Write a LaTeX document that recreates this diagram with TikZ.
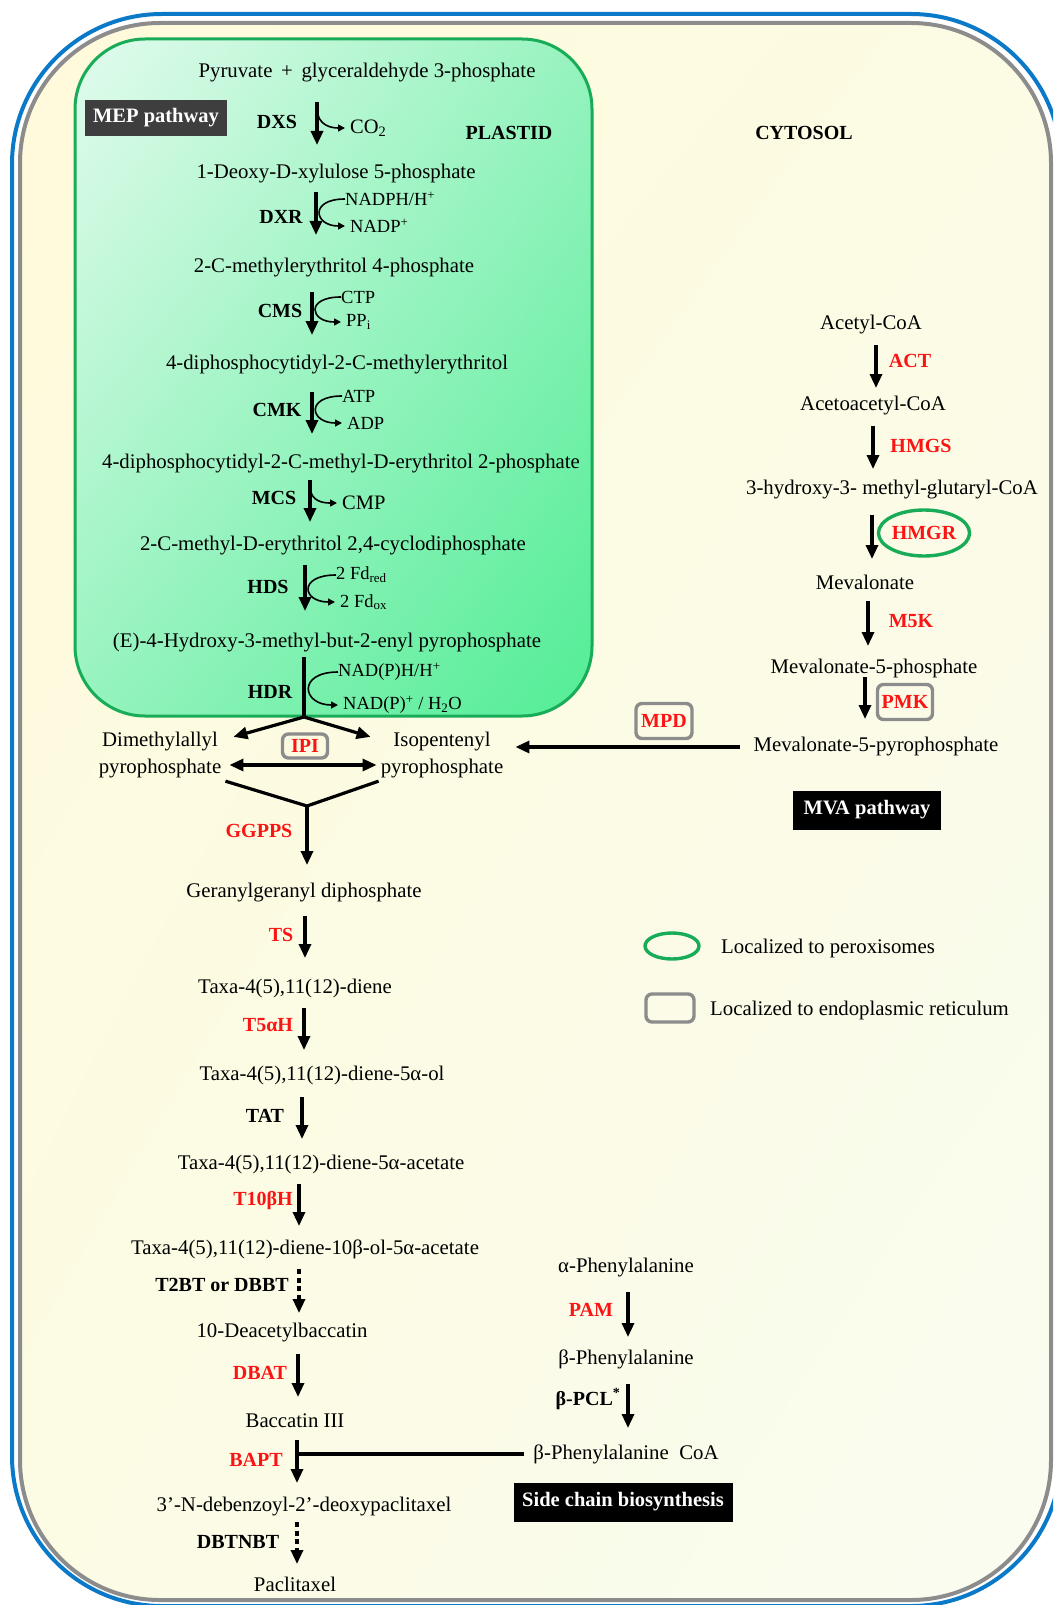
\documentclass[tikz,border=0pt]{standalone}
\usepackage{fontspec}
\setmainfont{Liberation Serif}
\usetikzlibrary{arrows.meta,calc,shapes.geometric,shadings}

\definecolor{bluebd}{RGB}{10,122,200}
\definecolor{graybd}{RGB}{140,140,140}
\definecolor{creamA}{RGB}{254,250,218}
\definecolor{creamB}{RGB}{252,251,228}
\definecolor{creamC}{RGB}{249,252,240}
\definecolor{mintA}{RGB}{226,251,237}
\definecolor{mintB}{RGB}{150,243,190}
\definecolor{mintC}{RGB}{82,237,150}
\definecolor{greenline}{RGB}{25,172,88}
\definecolor{enzred}{RGB}{250,20,20}
\definecolor{dkbox}{RGB}{62,62,62}

\begin{document}
\begin{tikzpicture}[x=1pt, y=-1pt,
    metab/.style={font=\fontsize{20.8}{27}\selectfont, inner sep=0pt, align=center},
    enz/.style={font=\fontsize{20}{24}\selectfont\bfseries, inner sep=0pt},
    redenz/.style={enz, text=enzred},
    cof/.style={font=\fontsize{18.5}{22}\selectfont, inner sep=0pt, anchor=west},
    erbox/.style={redenz, draw=graybd, line width=3.4pt, rounded corners=6pt},
    tag/.style={font=\fontsize{20.5}{24}\selectfont\bfseries, text=white, fill=black, inner sep=0pt},
    arrow/.style={-{Triangle[width=12pt,length=14pt]}, line width=3.2pt},
    dblarrow/.style={{Triangle[width=12pt,length=14pt]}-{Triangle[width=12pt,length=14pt]}, line width=3.2pt},
    dotarrow/.style={arrow, dash pattern=on 5pt off 3.5pt},
    side/.style={-{Triangle[width=7pt,length=7pt]}, line width=1.6pt, shorten >=5pt},
    bar/.style={line width=3.2pt}
]
\path[use as bounding box, clip] (0,0) rectangle (1053,1605);

% cell outline and compartments
\draw[bluebd, line width=4pt, rounded corners=150] (12,14) rectangle (1061,1606);
\shadedraw[draw=graybd, line width=4pt, rounded corners=140,
    upper left=creamA, upper right=creamB, lower left=creamB, lower right=creamC]
    (20,23) rectangle (1051,1600);
\shadedraw[draw=greenline, line width=3pt, rounded corners=70,
    upper left=mintA, upper right=mintB, lower left=mintB, lower right=mintC]
    (75,39) rectangle (592,716);

\node[tag, fill=dkbox, minimum width=142pt, minimum height=36pt] (meptag) at (156,118) {MEP pathway};
\node[enz] (plastid) at (509,133) {PLASTID};
\node[enz] (cytosol) at (804,133) {CYTOSOL};

% MEP pathway
\node[metab] (pyr) at (367,73) {Pyruvate \,+\, glyceraldehyde 3-phosphate};
\node[metab] (dxp) at (336,174) {1-Deoxy-D-xylulose 5-phosphate};
\node[metab] (mep) at (334,268) {2-C-methylerythritol 4-phosphate};
\node[metab] (cdpme) at (337,365) {4-diphosphocytidyl-2-C-methylerythritol};
\node[metab] (cdpmep) at (341,464) {4-diphosphocytidyl-2-C-methyl-D-erythritol 2-phosphate};
\node[metab] (mecpp) at (333,546) {2-C-methyl-D-erythritol 2,4-cyclodiphosphate};
\node[metab] (hmbpp) at (327,643) {(E)-4-Hydroxy-3-methyl-but-2-enyl pyrophosphate};

\node[enz] (dxs) at (277,122) {DXS};
\node[enz] (dxr) at (281,217) {DXR};
\node[enz] (cms) at (280,311) {CMS};
\node[enz] (cmk) at (277,410) {CMK};
\node[enz] (mcs) at (274,498) {MCS};
\node[enz] (hds) at (268,587) {HDS};
\node[enz] (hdr) at (270,692) {HDR};

\node[cof, font=\fontsize{20.5}{24}\selectfont] (co2) at (350,128) {CO\textsubscript{2}};
\node[cof] (nadph) at (345,199) {NADPH/H\textsuperscript{+}};
\node[cof] (nadp) at (350,226) {NADP\textsuperscript{+}};
\node[cof] (ctp) at (341,297) {CTP};
\node[cof] (ppi) at (346,322) {PP\textsubscript{i}};
\node[cof] (atp) at (342,396) {ATP};
\node[cof] (adp) at (347,423) {ADP};
\node[cof, font=\fontsize{20.5}{24}\selectfont] (cmp) at (342,503) {CMP};
\node[cof] (fdred) at (336,575) {2 Fd\textsubscript{red}};
\node[cof] (fdox) at (340,602) {2 Fd\textsubscript{ox}};
\node[cof] (nadphb) at (338,672) {NAD(P)H/H\textsuperscript{+}};
\node[cof] (nadpb) at (343,705) {NAD(P)\textsuperscript{+} / H\textsubscript{2}O};

\draw[arrow] ($(pyr)+(-50,29)$) -- ($(dxp)+(-19,-29)$);
\draw[arrow] ($(dxp)+(-20,18)$) -- ($(mep)+(-18,-33)$);
\draw[arrow] ($(mep)+(-22,24)$) -- ($(cdpme)+(-25,-30)$);
\draw[arrow] ($(cdpme)+(-25,27)$) -- ($(cdpmep)+(-29,-30)$);
\draw[arrow] ($(cdpmep)+(-31,16)$) -- ($(mecpp)+(-23,-24)$);
\draw[arrow] ($(mecpp)+(-28,19)$) -- ($(hmbpp)+(-22,-32)$);

\coordinate (dxsc) at (317,108);
\coordinate (mcsc) at (310,486);
\draw[side] (dxsc) .. controls +(0,18) and +(-18,0) .. (co2.west);
\draw[side] (nadph.west) .. controls +(-36,0) and +(-36,0) .. (nadp.west);
\draw[side] (ctp.west) .. controls +(-36,0) and +(-36,0) .. (ppi.west);
\draw[side] (atp.west) .. controls +(-37,0) and +(-37,0) .. (adp.west);
\draw[side] (mcsc) .. controls +(0,16) and +(-18,0) .. (cmp.west);
\draw[side] (fdred.west) .. controls +(-38,0) and +(-38,0) .. (fdox.west);
\draw[side] (nadphb.west) .. controls +(-41,0) and +(-41,0) .. (nadpb.west);

% IPP / DMAPP
\node[metab] (dmapp) at (160,755) {Dimethylallyl\\pyrophosphate};
\node[metab] (ipp) at (442,755) {Isopentenyl\\pyrophosphate};
\node[erbox, minimum width=45pt, minimum height=24pt] (ipi) at (305,746) {IPI};

\coordinate (hdrfork) at (304,717);
\draw[bar] ($(hmbpp)+(-23,14)$) -- (hdrfork);
\draw[arrow] (hdrfork) -- ($(dmapp.north east)+(12,5)$);
\draw[arrow] (hdrfork) -- ($(ipp.north west)+(-10,5)$);
\draw[dblarrow] ($(dmapp.east)+(8,10)$) -- ($(ipp.west)+(-4,10)$);

\coordinate (vjoin) at (307,806);
\draw[bar] ($(dmapp.south east)+(4,3)$) -- (vjoin) -- ($(ipp.south west)+(-2,3)$);

% taxol pathway
\node[metab] (ggpp) at (304,893) {Geranylgeranyl diphosphate};
\node[metab] (taxd) at (295,988) {Taxa-4(5),11(12)-diene};
\node[metab] (taxol) at (322,1075) {Taxa-4(5),11(12)-diene-5α-ol};
\node[metab] (taxac) at (321,1164) {Taxa-4(5),11(12)-diene-5α-acetate};
\node[metab] (tax10) at (305,1249) {Taxa-4(5),11(12)-diene-10β-ol-5α-acetate};
\node[metab] (dab) at (282,1333) {10-Deacetylbaccatin};
\node[metab] (bac) at (295,1421) {Baccatin III};
\node[metab] (dbdp) at (304,1507) {3'-N-debenzoyl-2'-deoxypaclitaxel};
\node[metab] (ptx) at (295,1584) {Paclitaxel};

\node[redenz] (ggpps) at (259,831) {GGPPS};
\node[redenz] (ts) at (281,935) {TS};
\node[redenz] (t5ah) at (268,1025) {T5αH};
\node[enz] (tat) at (265,1116) {TAT};
\node[redenz] (t10bh) at (263,1201) {T10βH};
\node[enz] (t2bt) at (222,1285) {T2BT or DBBT};
\node[redenz] (dbat) at (260,1373) {DBAT};
\node[redenz] (bapt) at (256,1460) {BAPT};
\node[enz] (dbtnbt) at (238,1542) {DBTNBT};

\draw[arrow] (vjoin) -- ($(ggpp)+(3,-28)$);
\draw[arrow] ($(ggpp)+(1,23)$) -- ($(taxd)+(10,-30)$);
\draw[arrow] ($(taxd)+(9,20)$) -- ($(taxol)+(-18,-25)$);
\draw[arrow] ($(taxol)+(-20,22)$) -- ($(taxac)+(-19,-25)$);
\draw[arrow] ($(taxac)+(-22,20)$) -- ($(tax10)+(-6,-23)$);
\draw[dotarrow] ($(tax10)+(-6,20)$) -- ($(dab)+(17,-20)$);
\draw[arrow] ($(dab)+(16,21)$) -- ($(bac)+(3,-24)$);
\draw[arrow] ($(bac)+(2,19)$) -- ($(dbdp)+(-7,-24)$);
\draw[dotarrow] ($(dbdp)+(-7,15)$) -- ($(ptx)+(2,-20)$);

% side chain
\node[metab] (aphe) at (626,1268) {α-Phenylalanine};
\node[metab] (bphe) at (626,1359) {β-Phenylalanine};
\node[metab] (bcoa) at (626,1454) {β-Phenylalanine\enspace CoA};
\node[redenz] (pam) at (591,1310) {PAM};
\node[enz] (bpcl) at (588,1399) {β-PCL\textsuperscript{*}};
\node[tag, minimum width=219pt, minimum height=39pt] (sidetag) at (623,1502) {Side chain biosynthesis};

\draw[arrow] ($(aphe)+(2,24)$) -- ($(bphe)+(2,-22)$);
\draw[arrow] ($(bphe)+(2,25)$) -- ($(bcoa)+(2,-26)$);
\draw[bar] ($(bcoa.west)+(-9,0)$) -- ($(bcoa.west -| bac)+(2,0)$);

% MVA pathway
\node[metab] (acoa) at (871,325) {Acetyl-CoA};
\node[metab] (aacoa) at (873,406) {Acetoacetyl-CoA};
\node[metab] (hmgcoa) at (892,490) {3-hydroxy-3- methyl-glutaryl-CoA};
\node[metab] (mva) at (865,582) {Mevalonate};
\node[metab] (mvp) at (874,668) {Mevalonate-5-phosphate};
\node[metab] (mvpp) at (876,747) {Mevalonate-5-pyrophosphate};

\node[redenz] (act) at (910,361) {ACT};
\node[redenz] (hmgs) at (921,446) {HMGS};
\node[redenz, ellipse, draw=greenline, line width=3.4pt, minimum width=85pt, minimum height=46pt] (hmgr) at (924,533) {HMGR};
\node[redenz] (m5k) at (911,621) {M5K};
\node[erbox, minimum width=55pt, minimum height=35pt] (pmk) at (905,702) {PMK};
\node[erbox, minimum width=56pt, minimum height=35pt] (mpd) at (664,721) {MPD};
\node[tag, minimum width=148pt, minimum height=39pt] (mvatag) at (867,810) {MVA pathway};

\draw[arrow] ($(acoa)+(5,20)$) -- ($(aacoa)+(3,-18)$);
\draw[arrow] ($(aacoa)+(0,20)$) -- ($(hmgcoa)+(-19,-21)$);
\draw[arrow] ($(hmgcoa)+(-20,25)$) -- ($(mva)+(7,-23)$);
\draw[arrow] ($(mva)+(3,19)$) -- ($(mvp)+(-6,-22)$);
\draw[arrow] ($(mvp)+(-9,9)$) -- ($(mvpp)+(-11,-28)$);
\draw[arrow] ($(mvpp.west)+(-13,0)$) -- ($(mvpp.west -| ipp.east)+(12,0)$);

% legend
\node[ellipse, draw=greenline, line width=3.4pt, minimum width=54pt, minimum height=26pt, inner sep=0pt] (legpx) at (672,946) {};
\node[metab, anchor=west] (legpxtxt) at (721,948) {Localized to peroxisomes};
\node[draw=graybd, line width=3.4pt, rounded corners=6pt, minimum width=48pt, minimum height=28pt, inner sep=0pt] (leger) at (670,1008) {};
\node[metab, anchor=west] (legertxt) at (710,1010) {Localized to endoplasmic reticulum};
\end{tikzpicture}
\end{document}
